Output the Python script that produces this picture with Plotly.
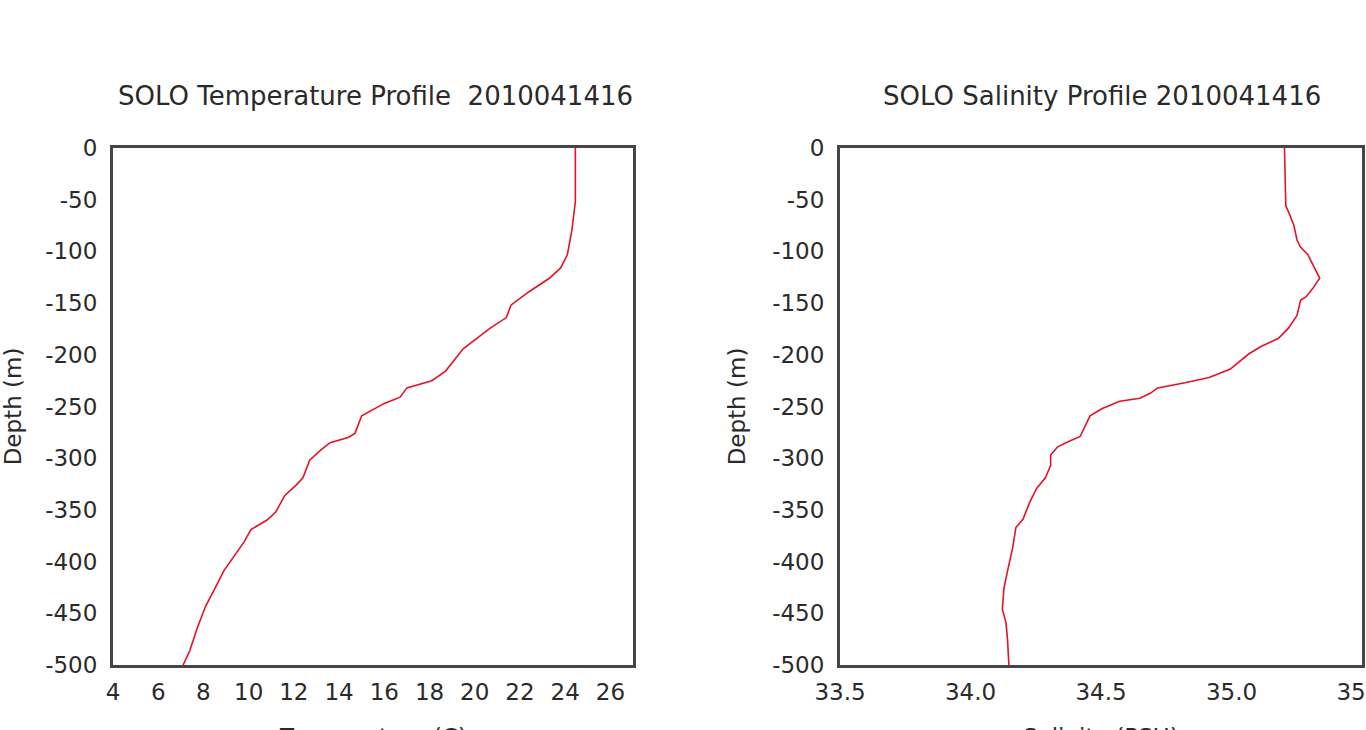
import plotly.graph_objects as go

# SOLO float profile 2010041416: depth (m, negative downward) vs temperature / salinity
temp_depth = [0, -52, -79, -103, -116, -126, -139, -152, -164, -174, -194, -216,
              -225, -232, -241, -247, -259, -276, -280, -285, -292, -302, -319,
              -326, -336, -352, -360, -369, -381, -396, -409, -422, -443, -466,
              -486, -500]
temperature = [24.45, 24.45, 24.3, 24.1, 23.8, 23.3, 22.4, 21.6, 21.4, 20.7, 19.5,
               18.7, 18.1, 17.0, 16.7, 16.0, 15.0, 14.7, 14.4, 13.6, 13.2, 12.7,
               12.4, 12.1, 11.6, 11.2, 10.8, 10.1, 9.8, 9.3, 8.9, 8.6, 8.1, 7.7,
               7.4, 7.1]

sal_depth = [0, -56, -62, -75, -89, -96, -103, -112, -126, -136, -144, -147, -162,
             -174, -184, -192, -199, -214, -222, -227, -232, -237, -242, -245,
             -252, -259, -269, -279, -284, -289, -297, -307, -319, -329, -342,
             -359, -367, -386, -409, -426, -446, -459, -476, -500]
salinity = [35.203, 35.208, 35.219, 35.239, 35.251, 35.265, 35.292, 35.311, 35.338,
            35.311, 35.285, 35.265, 35.251, 35.219, 35.180, 35.113, 35.067, 34.994,
            34.914, 34.822, 34.717, 34.690, 34.649, 34.572, 34.505, 34.458, 34.439,
            34.420, 34.374, 34.334, 34.307, 34.307, 34.287, 34.254, 34.228, 34.201,
            34.174, 34.162, 34.142, 34.128, 34.122, 34.136, 34.142, 34.147]

temp_ticks = list(range(4, 27, 2))
sal_ticks = [33.5, 34.0, 34.5, 35.0, 35.5]
depth_ticks = list(range(0, -501, -50))
depth_labels = [str(d) for d in depth_ticks]   # plain hyphen minus

W, H = 1366, 730
FONT = "DejaVu Sans"
TXT = "#2a2a2a"
FRAME = "#454545"
LINE = "rgb(228,18,40)"

fig = go.Figure()
fig.add_trace(go.Scatter(x=temperature, y=temp_depth, mode="lines",
                         line=dict(color=LINE, width=1.6), xaxis="x", yaxis="y",
                         showlegend=False))
fig.add_trace(go.Scatter(x=salinity, y=sal_depth, mode="lines",
                         line=dict(color=LINE, width=1.6), xaxis="x2", yaxis="y2",
                         showlegend=False))

def px_x(p):
    return p / W

def px_y(p):
    return (H - p) / H

frame = dict(showline=True, linecolor=FRAME, linewidth=3, mirror=True,
             showgrid=False, zeroline=False, ticks="",
             tickfont=dict(family=FONT, size=23, color=TXT))

ydom = [px_y(665), px_y(148)]
ytitle = dict(text="Depth (m)", font=dict(family=FONT, size=23, color=TXT), standoff=21)

fig.update_layout(
    width=W, height=H,
    margin=dict(l=0, r=0, t=0, b=0),
    paper_bgcolor="white", plot_bgcolor="white",
    font=dict(family=FONT, color=TXT),
    xaxis=dict(frame, domain=[px_x(113), px_x(633)], range=[4, 27],
               tickvals=temp_ticks, ticklabelstandoff=4,
               automargin=False, anchor="y"),
    yaxis=dict(frame, domain=ydom, range=[-500, 0], tickvals=depth_ticks,
               ticktext=depth_labels, ticklabelstandoff=8, title=ytitle,
               automargin=False, anchor="x"),
    xaxis2=dict(frame, domain=[px_x(840), px_x(1362)], range=[33.5, 35.5],
                tickvals=sal_ticks, tickformat=".1f", ticklabelstandoff=4,
                ticklabeloverflow="allow",
                automargin=False, anchor="y2"),
    yaxis2=dict(frame, domain=ydom, range=[-500, 0], tickvals=depth_ticks,
                ticktext=depth_labels, ticklabelstandoff=8, title=ytitle,
                automargin=False, anchor="x2"),
    annotations=[
        dict(text="SOLO Temperature Profile  2010041416", xref="paper", yref="paper",
             x=px_x(375), y=px_y(96), xanchor="center", yanchor="middle",
             showarrow=False, font=dict(family=FONT, size=26, color=TXT)),
        dict(text="SOLO Salinity Profile 2010041416", xref="paper", yref="paper",
             x=px_x(1102), y=px_y(96), xanchor="center", yanchor="middle",
             showarrow=False, font=dict(family=FONT, size=26, color=TXT)),
        # x-axis titles sit below the tick labels, at the lower edge of the figure
        dict(text="Temperature (C)", xref="paper", yref="paper",
             x=px_x(373), y=px_y(722), xanchor="center", yanchor="top",
             showarrow=False, font=dict(family=FONT, size=23, color=TXT)),
        dict(text="Salinity (PSU)", xref="paper", yref="paper",
             x=px_x(1101), y=px_y(722), xanchor="center", yanchor="top",
             showarrow=False, font=dict(family=FONT, size=23, color=TXT)),
    ],
)

fig.write_html("out.html")
